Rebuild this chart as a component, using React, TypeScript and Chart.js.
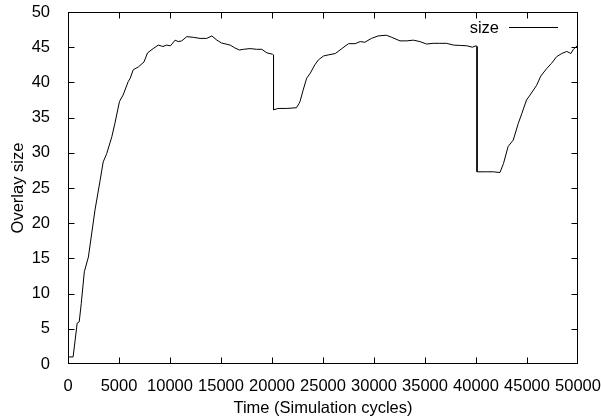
import React, { useEffect, useRef } from "react";
import { Chart, registerables } from "chart.js";

Chart.register(...registerables);

const seriesLabel = "size";
const xTitle = "Time (Simulation cycles)";
const yTitle = "Overlay size";

const timeCycles = [
  0, 500, 900, 1100, 1300, 1600, 2000, 2650, 3150, 3450, 3800, 4300, 4600, 5050, 5400, 5900, 6100, 6400,
  6900, 7450, 7800, 8350, 8850, 9300, 9650, 10050, 10500, 10800, 11150, 11650, 12300, 12950, 13600, 14100,
  14600, 15050, 15900, 16350, 16800, 17200, 17850, 18500, 19000, 19500, 20050, 20150, 20150, 20600, 21450,
  22400, 22650, 22750, 23050, 23400, 23750, 24200, 24550, 25050, 25500, 26200, 26850, 27500, 28150, 28650,
  29100, 29750, 30400, 31200, 31750, 32550, 33200, 33850, 34500, 35150, 35800, 36450, 37100, 37800, 38450,
  39100, 39650, 40000, 40100, 40100, 41050, 41700, 42350, 42700, 43150, 43650, 44150, 44500, 44950, 45300,
  45950, 46350, 46950, 47400, 47900, 48400, 48900, 49300, 49550, 50000,
];

const overlaySize = [
  1.0, 1.0, 5.8, 6.0, 8.6, 13.1, 15.2, 21.9, 26.1, 28.7, 29.9, 32.3, 34.2, 37.3, 38.2, 40.1, 40.6, 41.8,
  42.2, 42.9, 44.2, 44.8, 45.3, 45.1, 45.3, 45.2, 46.0, 45.8, 45.9, 46.5, 46.4, 46.25, 46.25, 46.6,
  46.0, 45.6, 45.3, 44.9, 44.6, 44.7, 44.8, 44.7, 44.7, 44.2, 44.0, 43.9, 36.1, 36.3, 36.3,
  36.4, 37.0, 37.3, 38.9, 40.6, 41.3, 42.5, 43.2, 43.75, 43.9, 44.1, 44.8, 45.5, 45.5, 45.8,
  45.7, 46.25, 46.6, 46.7, 46.4, 45.9, 45.9, 46.0, 45.8, 45.45, 45.55, 45.55, 45.55, 45.3, 45.25,
  45.2, 45.0, 45.2, 45.1, 27.3, 27.3, 27.3, 27.2, 28.5, 30.9, 31.8, 34.2, 35.6, 37.5, 38.2,
  39.6, 40.9, 42.0, 42.7, 43.65, 44.1, 44.4, 44.1, 44.7, 45.3,
];

const xMin = 0;
const xMax = 50000;
const xStep = 5000;
const yMin = 0;
const yMax = 50;
const yStep = 5;

const FONT = "'Liberation Sans', Arial, Helvetica, sans-serif";
const FONT_SIZE = 16.5;

const frameAndLegend = {
  id: "frameAndLegend",
  afterDatasetsDraw(chart: any) {
    const { ctx, chartArea: a, scales } = chart;
    const L = 6;
    const left = Math.round(a.left) + 0.5;
    const right = Math.round(a.right) - 0.5;
    const top = Math.round(a.top) + 0.5;
    const bottom = Math.round(a.bottom) - 0.5;
    ctx.save();
    ctx.strokeStyle = "#000";
    ctx.lineWidth = 1;
    ctx.beginPath();
    scales.x.ticks.forEach((t: any) => {
      if (t.value <= xMin || t.value >= xMax) return;
      const px = Math.round(scales.x.getPixelForValue(t.value)) + 0.5;
      ctx.moveTo(px, bottom);
      ctx.lineTo(px, bottom - L);
      ctx.moveTo(px, top);
      ctx.lineTo(px, top + L);
    });
    scales.y.ticks.forEach((t: any) => {
      if (t.value <= yMin || t.value >= yMax) return;
      const py = Math.round(scales.y.getPixelForValue(t.value)) + 0.5;
      ctx.moveTo(left, py);
      ctx.lineTo(left + L, py);
      ctx.moveTo(right, py);
      ctx.lineTo(right - L, py);
    });
    ctx.stroke();
    ctx.strokeRect(left, top, right - left, bottom - top);

    // legend
    const ly = Math.round(a.top + 15) + 0.5;
    ctx.beginPath();
    ctx.moveTo(a.right - 69, ly);
    ctx.lineTo(a.right - 20, ly);
    ctx.stroke();
    ctx.fillStyle = "#000";
    ctx.font = `${FONT_SIZE}px ${FONT}`;
    ctx.textAlign = "right";
    ctx.textBaseline = "middle";
    ctx.fillText(chart.data.datasets[0].label, a.right - 79, ly + 1);
    ctx.restore();
  },
};

export default function App() {
  const ref = useRef<HTMLCanvasElement | null>(null);

  useEffect(() => {
    if (!ref.current) return;
    const points = timeCycles.map((x, i) => ({ x, y: overlaySize[i] }));
    const chart = new Chart(ref.current, {
      type: "line",
      data: {
        datasets: [
          {
            label: seriesLabel,
            data: points,
            borderColor: "#000",
            borderWidth: 1,
            pointRadius: 0,
            tension: 0,
            fill: false,
          },
        ],
      },
      options: {
        animation: false,
        responsive: true,
        maintainAspectRatio: false,
        layout: { padding: { left: 0, top: 12, right: 23, bottom: 0 } },
        plugins: {
          legend: { display: false },
          tooltip: { enabled: false },
        },
        scales: {
          x: {
            type: "linear",
            min: xMin,
            max: xMax,
            border: { display: false },
            grid: { display: false },
            ticks: {
              stepSize: xStep,
              color: "#000",
              padding: 5,
              maxRotation: 0,
              autoSkip: false,
              font: { family: FONT, size: FONT_SIZE },
              callback: (v: any) => String(v),
            },
            title: {
              display: true,
              text: xTitle,
              color: "#000",
              padding: { top: 0, bottom: 2 },
              font: { family: FONT, size: FONT_SIZE },
            },
            afterFit: (s: any) => {
              s.height = 56;
              s.paddingLeft = 0;
              s.paddingRight = 0;
            },
          },
          y: {
            type: "linear",
            min: yMin,
            max: yMax,
            border: { display: false },
            grid: { display: false },
            ticks: {
              stepSize: yStep,
              color: "#000",
              padding: 10,
              autoSkip: false,
              font: { family: FONT, size: FONT_SIZE },
            },
            title: {
              display: true,
              text: yTitle,
              color: "#000",
              padding: { top: 9, bottom: 0 },
              font: { family: FONT, size: FONT_SIZE },
            },
            afterFit: (s: any) => {
              s.width = 68;
              s.paddingTop = 0;
              s.paddingBottom = 0;
            },
          },
        },
      },
      plugins: [frameAndLegend],
    });
    return () => chart.destroy();
  }, []);

  return (
    <div style={{ position: "fixed", left: 0, top: 0, width: 601, height: 420, background: "#fff" }}>
      <canvas ref={ref} />
    </div>
  );
}
